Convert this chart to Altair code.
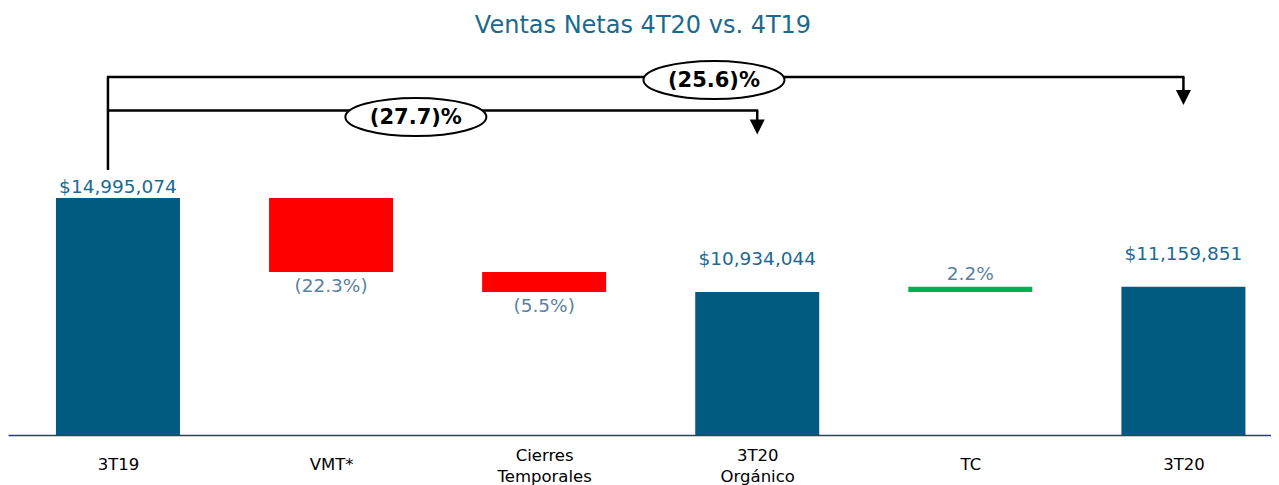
import json
import altair as alt
import pandas as pd

# ---------------- data ----------------
categories = ["3T19", "VMT*", "Cierres\nTemporales", "3T20\nOrgánico", "TC", "3T20"]
bar_start = [0, 14995074, 11800000, 0, 10934044, 0]
bar_end = [14995074, 11800000, 10934044, 10934044, 11159851, 11159851]
bar_kind = ["start", "down", "down", "subtotal", "up", "total"]
bar_labels = ["$14,995,074", "(22.3%)", "(5.5%)", "$10,934,044", "2.2%", "$11,159,851"]

title_text = "Ventas Netas 4T20 vs. 4T19"

bracket_labels = ["(25.6)%", "(27.7)%"]
bracket_from = [0, 0]
bracket_to = [5, 3]
bracket_level = [20220000, 18775000]
bracket_tip = [19336000, 18062000]
bracket_label_x = [2.797, 1.398]
bracket_label_y = [20090000, 18494000]
stem_bottom = [16205000]
stem_top = [20220000]

# ---------------- tables ----------------
bars = pd.DataFrame({
    "idx": list(range(len(categories))),
    "cat": categories,
    "start": bar_start,
    "end": bar_end,
    "kind": bar_kind,
    "label": bar_labels,
})
brk = pd.DataFrame({
    "label": bracket_labels,
    "x_from": bracket_from,
    "x_to": bracket_to,
    "level": bracket_level,
    "tip": bracket_tip,
    "lx": bracket_label_x,
    "ly": bracket_label_y,
})
stem = pd.DataFrame({"x": [0], "y": stem_bottom, "y2": stem_top})
title_df = pd.DataFrame({"t": [title_text]})

FONT = "DejaVu Sans"
NAVY = "#015A80"
VAL_COLOR = "#1C6A92"
PCT_COLOR = "#5A82A2"

label_lines = [c.split("\n") for c in categories]
multi_idx = [i for i, l in enumerate(label_lines) if len(l) > 1]
multi_test = " || ".join(f"datum.value == {i}" for i in multi_idx)

x_scale = alt.Scale(domain=[-0.516, 5.411], nice=False, zero=False, padding=0)
y_scale = alt.Scale(domain=[4757000, 23200000], nice=False, zero=False, padding=0)
x_axis = alt.Axis(
    values=list(range(len(categories))),
    labelExpr=f"{json.dumps(label_lines, ensure_ascii=False)}[datum.value]",
    ticks=False, tickSize=0, grid=False, title=None,
    domainColor="#2B3A8C", domainWidth=1.6,
    labelFont=FONT, labelFontSize=16.5, labelColor="#000000",
    labelPadding={"condition": {"test": multi_test, "value": 20}, "value": 29},
    labelBaseline="middle", labelLineHeight=21,
    labelOverlap=False, labelFlush=False, labelBound=False,
)


def X(field):
    return alt.X(field, type="quantitative", scale=x_scale, axis=x_axis)


def Y(field):
    return alt.Y(field, type="quantitative", scale=y_scale, axis=None)


color_scale = alt.Scale(
    domain=["start", "down", "subtotal", "up", "total"],
    range=[NAVY, "#FF0000", NAVY, "#00B050", NAVY],
)

bar_layer = alt.Chart(bars).mark_bar(size=124, clip=True).encode(
    x=X("idx"),
    y=Y("start"),
    y2="end",
    color=alt.Color("kind:N", scale=color_scale, legend=None),
)

base_txt = alt.Chart(bars)
txt_start = base_txt.mark_text(font=FONT, fontSize=18.5, color=VAL_COLOR, baseline="alphabetic", dy=-5).encode(
    x=X("idx"), y=Y("end"), text="label"
).transform_filter(alt.datum.kind == "start")
txt_tot = base_txt.mark_text(font=FONT, fontSize=18.5, color=VAL_COLOR, baseline="alphabetic", dy=-27).encode(
    x=X("idx"), y=Y("end"), text="label"
).transform_filter((alt.datum.kind == "subtotal") | (alt.datum.kind == "total"))
txt_down = base_txt.mark_text(font=FONT, fontSize=18.5, color=PCT_COLOR, baseline="alphabetic", dy=20).encode(
    x=X("idx"), y=Y("end"), text="label"
).transform_filter(alt.datum.kind == "down")
txt_up = base_txt.mark_text(font=FONT, fontSize=18.5, color=PCT_COLOR, baseline="alphabetic", dy=-7).encode(
    x=X("idx"), y=Y("end"), text="label"
).transform_filter(alt.datum.kind == "up")

LW = 2.5
stem_layer = alt.Chart(stem).mark_rule(color="black", strokeWidth=LW, xOffset=-10).encode(
    x=X("x"), y=Y("y"), y2="y2"
)
horiz = alt.Chart(brk).mark_rule(color="black", strokeWidth=LW, xOffset=-11, x2Offset=1).encode(
    x=X("x_from"), x2="x_to", y=Y("level")
)
right_stems = alt.Chart(brk).mark_rule(color="black", strokeWidth=LW).encode(
    x=X("x_to"), y=Y("level"), y2="tip"
)
arrows = alt.Chart(brk).mark_point(
    shape="M -1 -1 L 1 -1 L 0 1 Z", size=225, filled=True, color="black", opacity=1
).encode(x=X("x_to"), y=Y("tip"))

ellipses = alt.Chart(brk).mark_point(
    shape="M -1 0 A 1 0.27 0 1 1 1 0 A 1 0.27 0 1 1 -1 0 Z",
    size=141 * 141, filled=True, fill="white", stroke="black", strokeWidth=2,
    fillOpacity=1, strokeOpacity=1,
).encode(x=X("lx"), y=Y("ly"))
ell_text = alt.Chart(brk).mark_text(
    font=FONT, fontSize=21, fontWeight="bold", color="black", baseline="middle", dy=1
).encode(x=X("lx"), y=Y("ly"), text="label")

title_layer = alt.Chart(title_df).mark_text(
    font=FONT, fontSize=24, color="#1B6A8E", baseline="alphabetic", align="center"
).encode(x=alt.value(635), y=alt.value(25), text="t")

chart = alt.layer(
    bar_layer, txt_start, txt_tot, txt_down, txt_up,
    stem_layer, horiz, right_stems, arrows, ellipses, ell_text, title_layer,
).properties(
    width=1263, height=427,
    autosize=alt.AutoSizeParams(type="none"),
    padding={"left": 0, "right": 0, "top": 0, "bottom": 50},
).configure_view(stroke=None)

chart.save("out.html", embed_options={"renderer": "svg", "actions": False})
